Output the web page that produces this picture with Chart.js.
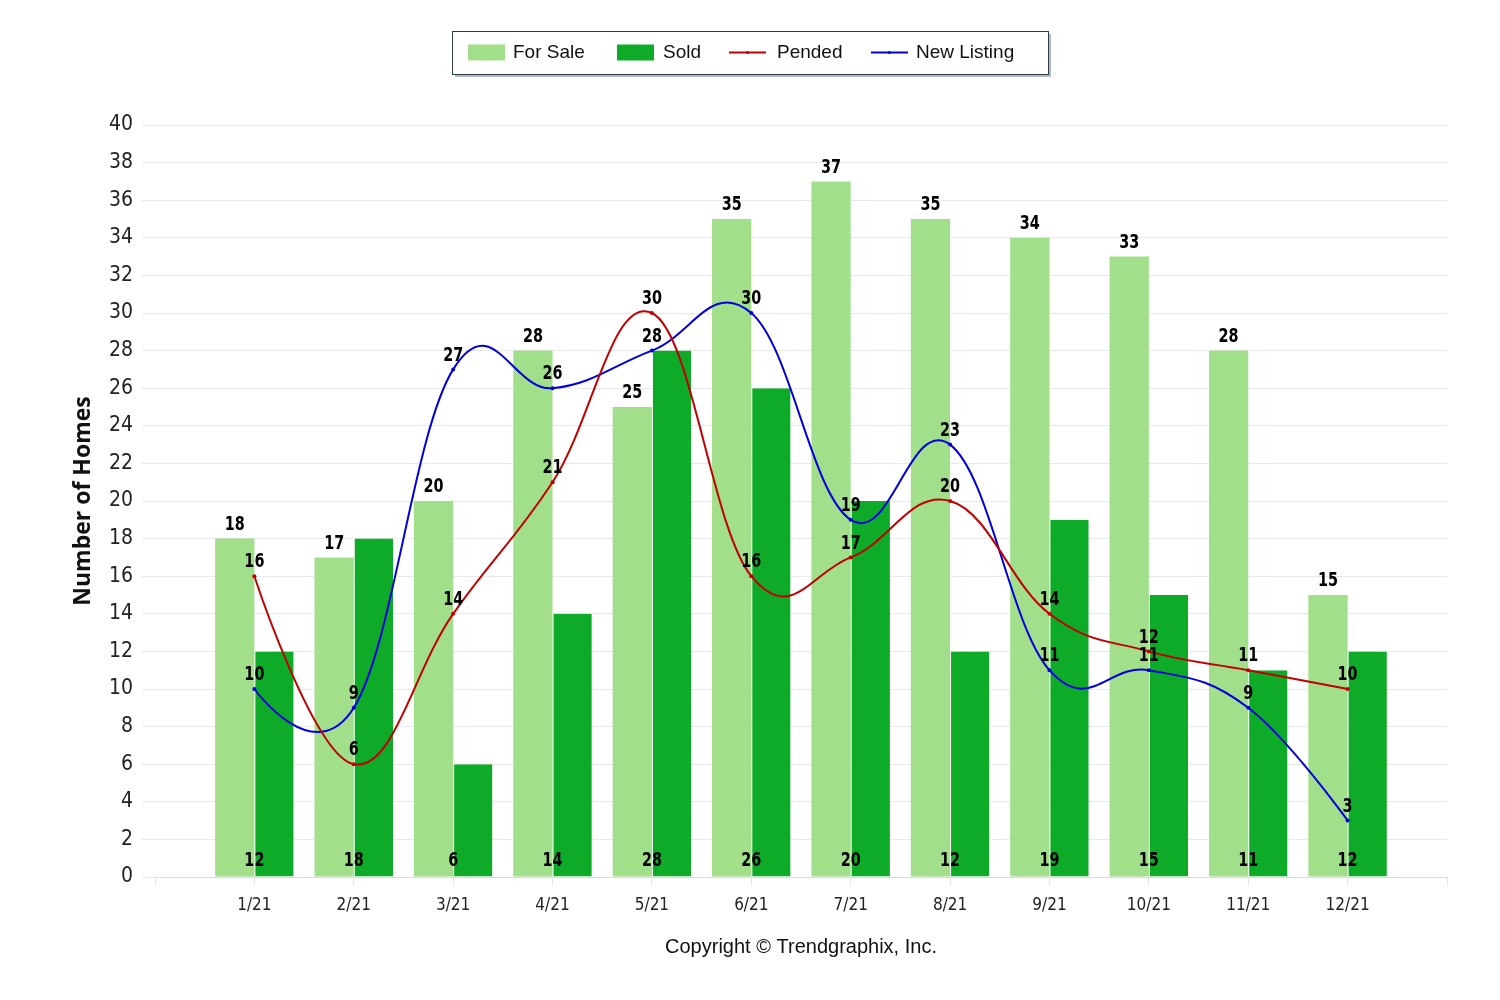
<!DOCTYPE html>
<html>
<head>
<meta charset="utf-8">
<script src="https://cdn.jsdelivr.net/npm/chart.js@4.4.1/dist/chart.umd.min.js"></script>
<style>
html,body{margin:0;padding:0;background:#ffffff;}
#wrap{width:1500px;height:1000px;position:relative;}
</style>
</head>
<body>
<div id="wrap"><canvas id="c" width="1500" height="1000"></canvas></div>
<script>
const months = ['1/21','2/21','3/21','4/21','5/21','6/21','7/21','8/21','9/21','10/21','11/21','12/21'];
const forSale = [18,17,20,28,25,35,37,35,34,33,28,15];
const sold = [12,18,6,14,28,26,20,12,19,15,11,12];
const pended = [16,6,14,21,30,16,17,20,14,12,11,10];
const newListing = [10,9,27,26,28,30,19,23,11,11,9,3];
const yMin = 0, yMax = 40, yStep = 2;

const NARROW = '"Liberation Sans Narrow", "DejaVu Sans Condensed", "Roboto Condensed", sans-serif';
const ARIAL = '"Liberation Sans", Arial, sans-serif';

const labels = [''].concat(months, ['']);
const pad = arr => [null].concat(arr, [null]);

const C_FORSALE = '#A1DF8A', C_SOLD = '#0EAB28', C_PENDED = '#C00000', C_NEW = '#0000DD';

const hcSpline = {
  id: 'hcSpline',
  beforeDatasetDraw(chart, args) {
    const meta = args.meta;
    if (meta.type !== 'line') return;
    const pts = meta.data, s = 1.5, d = s + 1;
    const ok = p => p && !p.skip;
    for (let i = 0; i < pts.length; i++) {
      const p = pts[i];
      if (!ok(p)) continue;
      p.cp1x = p.x; p.cp1y = p.y; p.cp2x = p.x; p.cp2y = p.y;
      const a = pts[i - 1], b = pts[i + 1];
      if (ok(a) && ok(b)) {
        let lx = (s * p.x + a.x) / d, ly = (s * p.y + a.y) / d;
        let rx = (s * p.x + b.x) / d, ry = (s * p.y + b.y) / d;
        let corr = 0;
        if (rx !== lx) corr = ((ry - ly) * (rx - p.x)) / (rx - lx) + p.y - ry;
        ly += corr; ry += corr;
        p.cp1x = lx; p.cp1y = ly; p.cp2x = rx; p.cp2y = ry;
      }
    }
    meta.dataset._pointsUpdated = true;
    meta.dataset._path = undefined;
  }
};

function narrowText(ctx, txt, x, y) {
  ctx.save();
  ctx.translate(x, y);
  ctx.scale(0.8, 1);
  ctx.fillText(txt, 0, 0);
  ctx.restore();
}

const valueLabels = {
  id: 'valueLabels',
  afterDatasetsDraw(chart) {
    const ctx = chart.ctx;
    const xs = chart.scales.x, ys = chart.scales.y;
    const zeroY = ys.getPixelForValue(0);
    ctx.save();
    ctx.font = 'bold 20px ' + NARROW;
    ctx.fillStyle = '#000';
    ctx.textAlign = 'center';
    ctx.textBaseline = 'middle';
    chart.data.datasets.forEach((ds, di) => {
      const meta = chart.getDatasetMeta(di);
      meta.data.forEach((el, i) => {
        const v = ds.data[i];
        if (v === null || v === undefined) return;
        if (ds.label === 'Sold') {
          narrowText(ctx, String(v), xs.getPixelForValue(i), zeroY - 16);
        } else {
          narrowText(ctx, String(v), el.x, el.y - 14);
        }
      });
    });
    ctx.restore();
  }
};

const boxLegend = {
  id: 'boxLegend',
  afterDraw(chart) {
    const ctx = chart.ctx;
    ctx.save();
    const bx = 452, by = 31, bw = 596, bh = 43;
    ctx.fillStyle = 'rgba(120,130,140,0.55)';
    ctx.fillRect(bx + 3, by + 3, bw, bh);
    ctx.fillStyle = '#fff';
    ctx.fillRect(bx, by, bw, bh);
    ctx.strokeStyle = '#2E3B4B';
    ctx.lineWidth = 1;
    ctx.strokeRect(bx + 0.5, by + 0.5, bw, bh);
    ctx.font = '19px ' + ARIAL;
    ctx.textBaseline = 'middle';
    ctx.textAlign = 'left';
    const cy = by + 21.5;
    const items = chart.data.datasets.map(ds => ({label: ds.label, color: ds.type === 'line' ? ds.borderColor : ds.backgroundColor, line: ds.type === 'line'}));
    const swX = [468, 617, 729, 871];
    const txX = [513, 663, 777, 916];
    items.forEach((it, i) => {
      if (it.line) {
        ctx.strokeStyle = it.color;
        ctx.lineWidth = 2;
        ctx.beginPath();
        ctx.moveTo(swX[i], cy);
        ctx.lineTo(swX[i] + 37, cy);
        ctx.stroke();
        ctx.fillStyle = it.color;
        ctx.beginPath();
        ctx.arc(swX[i] + 18.5, cy, 1.5, 0, Math.PI * 2);
        ctx.fill();
      } else {
        ctx.fillStyle = it.color;
        ctx.fillRect(swX[i], cy - 8, 37, 16);
      }
      ctx.fillStyle = '#111';
      ctx.fillText(it.label, txX[i], cy);
    });
    ctx.restore();
  }
};

new Chart(document.getElementById('c'), {
  type: 'bar',
  data: {
    labels: labels,
    datasets: [
      {type: 'bar', label: 'For Sale', data: pad(forSale), backgroundColor: C_FORSALE, order: 2,
       categoryPercentage: 0.79, barPercentage: 1.0},
      {type: 'bar', label: 'Sold', data: pad(sold), backgroundColor: C_SOLD, order: 2,
       borderColor: '#ffffff', borderWidth: {left: 1, right: 0, top: 0, bottom: 0},
       categoryPercentage: 0.79, barPercentage: 1.0},
      {type: 'line', label: 'Pended', data: pad(pended), borderColor: C_PENDED, backgroundColor: C_PENDED,
       borderWidth: 2, pointRadius: 2, pointBorderWidth: 0, tension: 0.4, fill: false, order: 1},
      {type: 'line', label: 'New Listing', data: pad(newListing), borderColor: C_NEW, backgroundColor: C_NEW,
       borderWidth: 2, pointRadius: 2, pointBorderWidth: 0, tension: 0.4, fill: false, order: 1}
    ]
  },
  options: {
    responsive: false,
    animation: false,
    devicePixelRatio: 1,
    layout: {padding: {left: 0, right: 53, top: 125, bottom: 0}},
    plugins: {legend: {display: false}, tooltip: {enabled: false}},
    scales: {
      x: {
        offset: false,
        grid: {offset: false, drawOnChartArea: false, color: '#e6e6e6', tickLength: 9, lineWidth: 1},
        border: {color: '#d9d9d9', width: 1},
        ticks: {autoSkip: false, maxRotation: 0, minRotation: 0, padding: 9, color: '#222',
                font: {family: NARROW, size: 17}},
        title: {display: true, text: 'Copyright © Trendgraphix, Inc.', color: '#111',
                font: {family: ARIAL, size: 20}, padding: {top: 0, bottom: 41}},
        afterFit: s => { s.height = 123; }
      },
      y: {
        min: yMin, max: yMax,
        ticks: {stepSize: yStep, padding: 9, color: '#222', font: {family: NARROW, size: 21}},
        grid: {color: '#e9e9e9', tickLength: 13, lineWidth: 1},
        border: {display: false},
        title: {display: true, text: 'Number of Homes', color: '#111',
                font: {family: '"Open Sans", "Noto Sans", sans-serif', size: 23, weight: 'bold'},
                padding: {top: 70, bottom: 0}},
        afterFit: s => { s.width = 155; }
      }
    }
  },
  plugins: [hcSpline, valueLabels, boxLegend]
});
</script>
</body>
</html>
